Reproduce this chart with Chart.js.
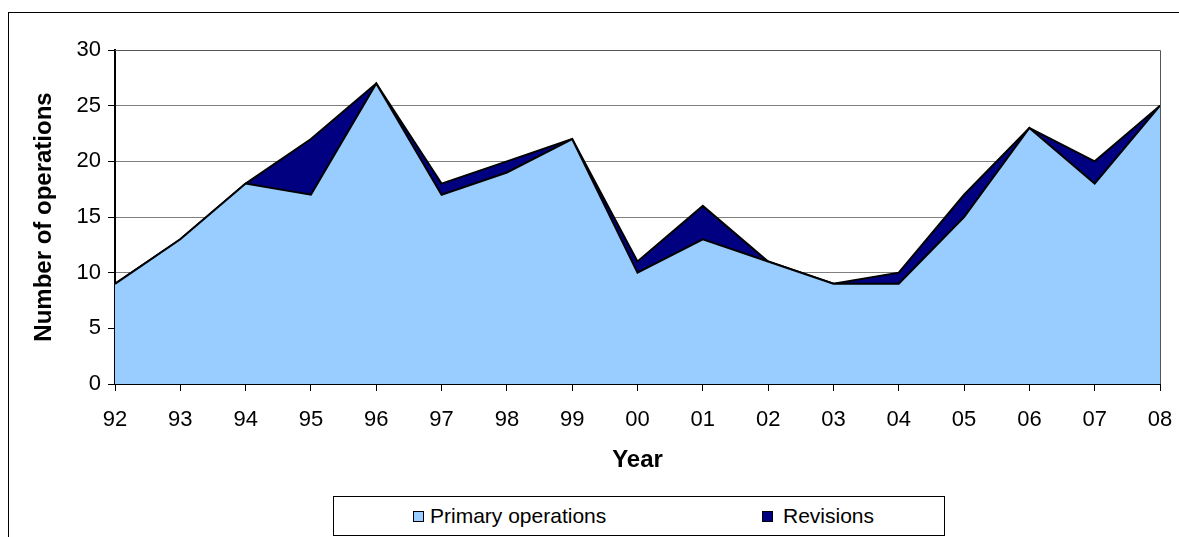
<!DOCTYPE html>
<html>
<head>
<meta charset="utf-8">
<script src="https://cdn.jsdelivr.net/npm/chart.js@4.4.1/dist/chart.umd.min.js"></script>
<style>
  html, body { margin:0; padding:0; background:#fff; }
  body { width:1179px; height:537px; overflow:hidden; position:relative; font-family:"Liberation Sans", Arial, sans-serif; }
  #frame { position:absolute; left:8px; top:12px; width:1200px; height:600px; border:1px solid #000; box-sizing:border-box; }
  #wrap { position:absolute; left:0; top:0; width:1179px; height:537px; }
  #legend { position:absolute; left:333px; top:496px; width:612px; height:40px; border:1px solid #000; box-sizing:border-box; background:#fff; font-size:21px; color:#000; }
  .sw { position:absolute; width:11px; height:11px; border:1px solid #000; box-sizing:border-box; top:14px; }
  .lt { position:absolute; top:7px; line-height:24px; white-space:nowrap; }
</style>
</head>
<body>
<div id="frame"></div>
<div id="wrap"><canvas id="c" width="1179" height="537"></canvas></div>
<div id="legend">
  <span class="sw" id="sw1" style="left:79px;"></span><span class="lt" id="lt1" style="left:96px;"></span>
  <span class="sw" id="sw2" style="left:428px;"></span><span class="lt" id="lt2" style="left:449px;"></span>
</div>
<script>
const years = ['92','93','94','95','96','97','98','99','00','01','02','03','04','05','06','07','08'];
const primaryOps = [9,13,18,17,27,17,19,22,10,13,11,9,9,15,23,18,25];
const revisions = [0,0,0,5,0,1,1,0,1,3,0,0,1,2,0,2,0];
const yTicks = [0,5,10,15,20,25,30];
const seriesNames = ['Primary operations','Revisions'];
const seriesColors = ['#99CCFF','#000080'];

document.getElementById('lt1').textContent = seriesNames[0];
document.getElementById('lt2').textContent = seriesNames[1];
document.getElementById('sw1').style.background = seriesColors[0];
document.getElementById('sw2').style.background = seriesColors[1];

const FF = '"Liberation Sans", Arial, sans-serif';

const plotBorder = {
  id:'plotBorder',
  afterDraw(chart){
    const {ctx, chartArea:a} = chart;
    ctx.save();
    ctx.strokeStyle = '#555';
    ctx.lineWidth = 1;
    ctx.beginPath();
    ctx.moveTo(a.left, a.top + 0.5);
    ctx.lineTo(a.right + 0.5, a.top + 0.5);
    ctx.lineTo(a.right + 0.5, a.bottom);
    ctx.stroke();
    ctx.restore();
  }
};

new Chart(document.getElementById('c'), {
  type:'line',
  data:{
    labels: years,
    datasets:[
      { label: seriesNames[0], data: primaryOps, fill:'origin', backgroundColor: seriesColors[0], borderColor:'#000', borderWidth:2, pointRadius:0, tension:0 },
      { label: seriesNames[1], data: revisions, fill:'-1', backgroundColor: seriesColors[1], borderColor:'#000', borderWidth:2, pointRadius:0, tension:0 }
    ]
  },
  options:{
    responsive:false,
    animation:false,
    devicePixelRatio:1,
    layout:{ padding:{ left:22, right:19, top:50, bottom:58 } },
    plugins:{ legend:{ display:false }, tooltip:{ enabled:false } },
    scales:{
      x:{
        offset:false,
        grid:{ display:true, drawOnChartArea:false, drawTicks:true, tickLength:7, color:'#000', tickColor:'#000' },
        border:{ display:true, color:'#000', width:2 },
        ticks:{ font:{ size:22, family:FF }, color:'#000', padding:16, maxRotation:0, autoSkip:false },
        title:{ display:true, text:'Year', color:'#000', font:{ size:24, weight:'bold', family:FF }, padding:{ top:0, bottom:4 } },
        afterFit(s){ s.height = 95; s.paddingLeft = 0; s.paddingRight = 0; }
      },
      y:{
        stacked:true,
        min:0, max:30,
        afterBuildTicks(s){ s.ticks = yTicks.map(v => ({ value:v })); },
        grid:{ color:'#808080', lineWidth:1, tickLength:7, tickColor:'#000' },
        border:{ display:true, color:'#000', width:2 },
        ticks:{ font:{ size:22, family:FF }, color:'#000', padding:7 },
        title:{ display:true, text:'Number of operations', color:'#000', font:{ size:24, weight:'bold', family:FF }, padding:{ top:8, bottom:0 } },
        afterFit(s){ s.width = 93; s.paddingTop = 0; s.paddingBottom = 0; }
      }
    }
  },
  plugins:[plotBorder]
});
</script>
</body>
</html>
